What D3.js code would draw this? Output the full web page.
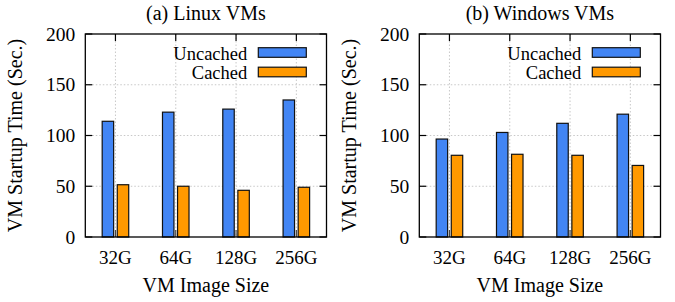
<!DOCTYPE html>
<html><head><meta charset="utf-8">
<script src="https://cdn.jsdelivr.net/npm/d3@7"></script>
<style>body{margin:0;background:#fff}</style>
</head><body><svg id="c" width="675" height="302" font-family="'Liberation Serif','DejaVu Serif',serif"></svg>
<script>
const categories = ["32G","64G","128G","256G"];
const seriesNames = ["Uncached","Cached"];
const linuxUncached = [114,123,126,135];
const linuxCached = [51.5,50,46,49];
const windowsUncached = [96.5,103,112,121];
const windowsCached = [80.5,81.5,80.5,70.5];
const yTicks = [0,50,100,150,200];
const titles = ["(a) Linux VMs","(b) Windows VMs"];
const colors = ["#4285f4","#ff9900"];

(function(){
const svg = d3.select("#c");
const panels = [
  {x0:85.3, title:titles[0], data:[linuxUncached, linuxCached]},
  {x0:419.3, title:titles[1], data:[windowsUncached, windowsCached]}
];
const W = 241.2, pTop = 34, pBottom = 237;

panels.forEach((p, pi) => {
  const g = svg.append("g");
  const x = d3.scaleLinear().domain([-0.5, 3.5]).range([p.x0, p.x0 + W]);
  const y = d3.scaleLinear().domain([0, 200]).range([pBottom, pTop]);
  // grid
  yTicks.slice(1, -1).forEach(t => {
    g.append("line").attr("x1", p.x0).attr("x2", p.x0 + W).attr("y1", y(t)).attr("y2", y(t))
      .attr("stroke", "#c8c8c8").attr("stroke-width", 1).attr("stroke-dasharray", "1.5,2");
  });
  categories.forEach((c, i) => {
    g.append("line").attr("x1", x(i)).attr("x2", x(i)).attr("y1", pTop).attr("y2", pBottom)
      .attr("stroke", "#c8c8c8").attr("stroke-width", 1).attr("stroke-dasharray", "1.5,2");
  });
  // bars
  const offs = [[-0.22, -0.03], [0.03, 0.22]];
  p.data.forEach((vals, si) => {
    g.selectAll(null).data(vals).enter().append("rect")
      .attr("x", (d, i) => x(i + offs[si][0]))
      .attr("width", (d, i) => x(i + offs[si][1]) - x(i + offs[si][0]))
      .attr("y", d => y(d))
      .attr("height", d => y(0) - y(d))
      .attr("fill", colors[si]).attr("stroke", "#111").attr("stroke-width", 1.2);
  });
  // ticks
  yTicks.forEach(t => {
    g.append("line").attr("x1", p.x0).attr("x2", p.x0 + 7).attr("y1", y(t)).attr("y2", y(t)).attr("stroke", "#000").attr("stroke-width", 1.2);
    g.append("line").attr("x1", p.x0 + W).attr("x2", p.x0 + W - 7).attr("y1", y(t)).attr("y2", y(t)).attr("stroke", "#000").attr("stroke-width", 1.2);
    g.append("text").attr("x", p.x0 - 10).attr("y", y(t) + 6.5).attr("text-anchor", "end")
      .attr("font-size", 19.5).text(t);
  });
  categories.forEach((c, i) => {
    g.append("line").attr("x1", x(i)).attr("x2", x(i)).attr("y1", pTop).attr("y2", pTop + 7).attr("stroke", "#000").attr("stroke-width", 1.2);
    g.append("line").attr("x1", x(i)).attr("x2", x(i)).attr("y1", pBottom).attr("y2", pBottom - 7).attr("stroke", "#444").attr("stroke-width", 1.2);
    g.append("text").attr("x", x(i)).attr("y", 264).attr("text-anchor", "middle").attr("font-size", 19).text(c);
  });
  // frame
  g.append("rect").attr("x", p.x0).attr("y", pTop).attr("width", W).attr("height", pBottom - pTop)
    .attr("fill", "none").attr("stroke", "#000").attr("stroke-width", 1.3);
  // titles
  g.append("text").attr("x", p.x0 + W / 2).attr("y", 20).attr("text-anchor", "middle").attr("font-size", 20).text(p.title);
  g.append("text").attr("x", p.x0 + W / 2).attr("y", 291.5).attr("text-anchor", "middle").attr("font-size", 20).text("VM Image Size");
  g.append("text").attr("transform", `translate(${p.x0 - 63},${(pTop + pBottom) / 2}) rotate(-90)`)
    .attr("text-anchor", "middle").attr("font-size", 20).text("VM Startup Time (Sec.)");
  // legend
  seriesNames.forEach((s, si) => {
    const ly = 52.5 + si * 19.5;
    g.append("text").attr("x", p.x0 + 162).attr("y", ly + 7).attr("text-anchor", "end").attr("font-size", 18.5).text(s);
    g.append("rect").attr("x", p.x0 + 173).attr("y", ly - 4.8).attr("width", 48).attr("height", 9.6)
      .attr("fill", colors[si]).attr("stroke", "#111").attr("stroke-width", 1.2);
  });
});
})();
</script></body></html>
